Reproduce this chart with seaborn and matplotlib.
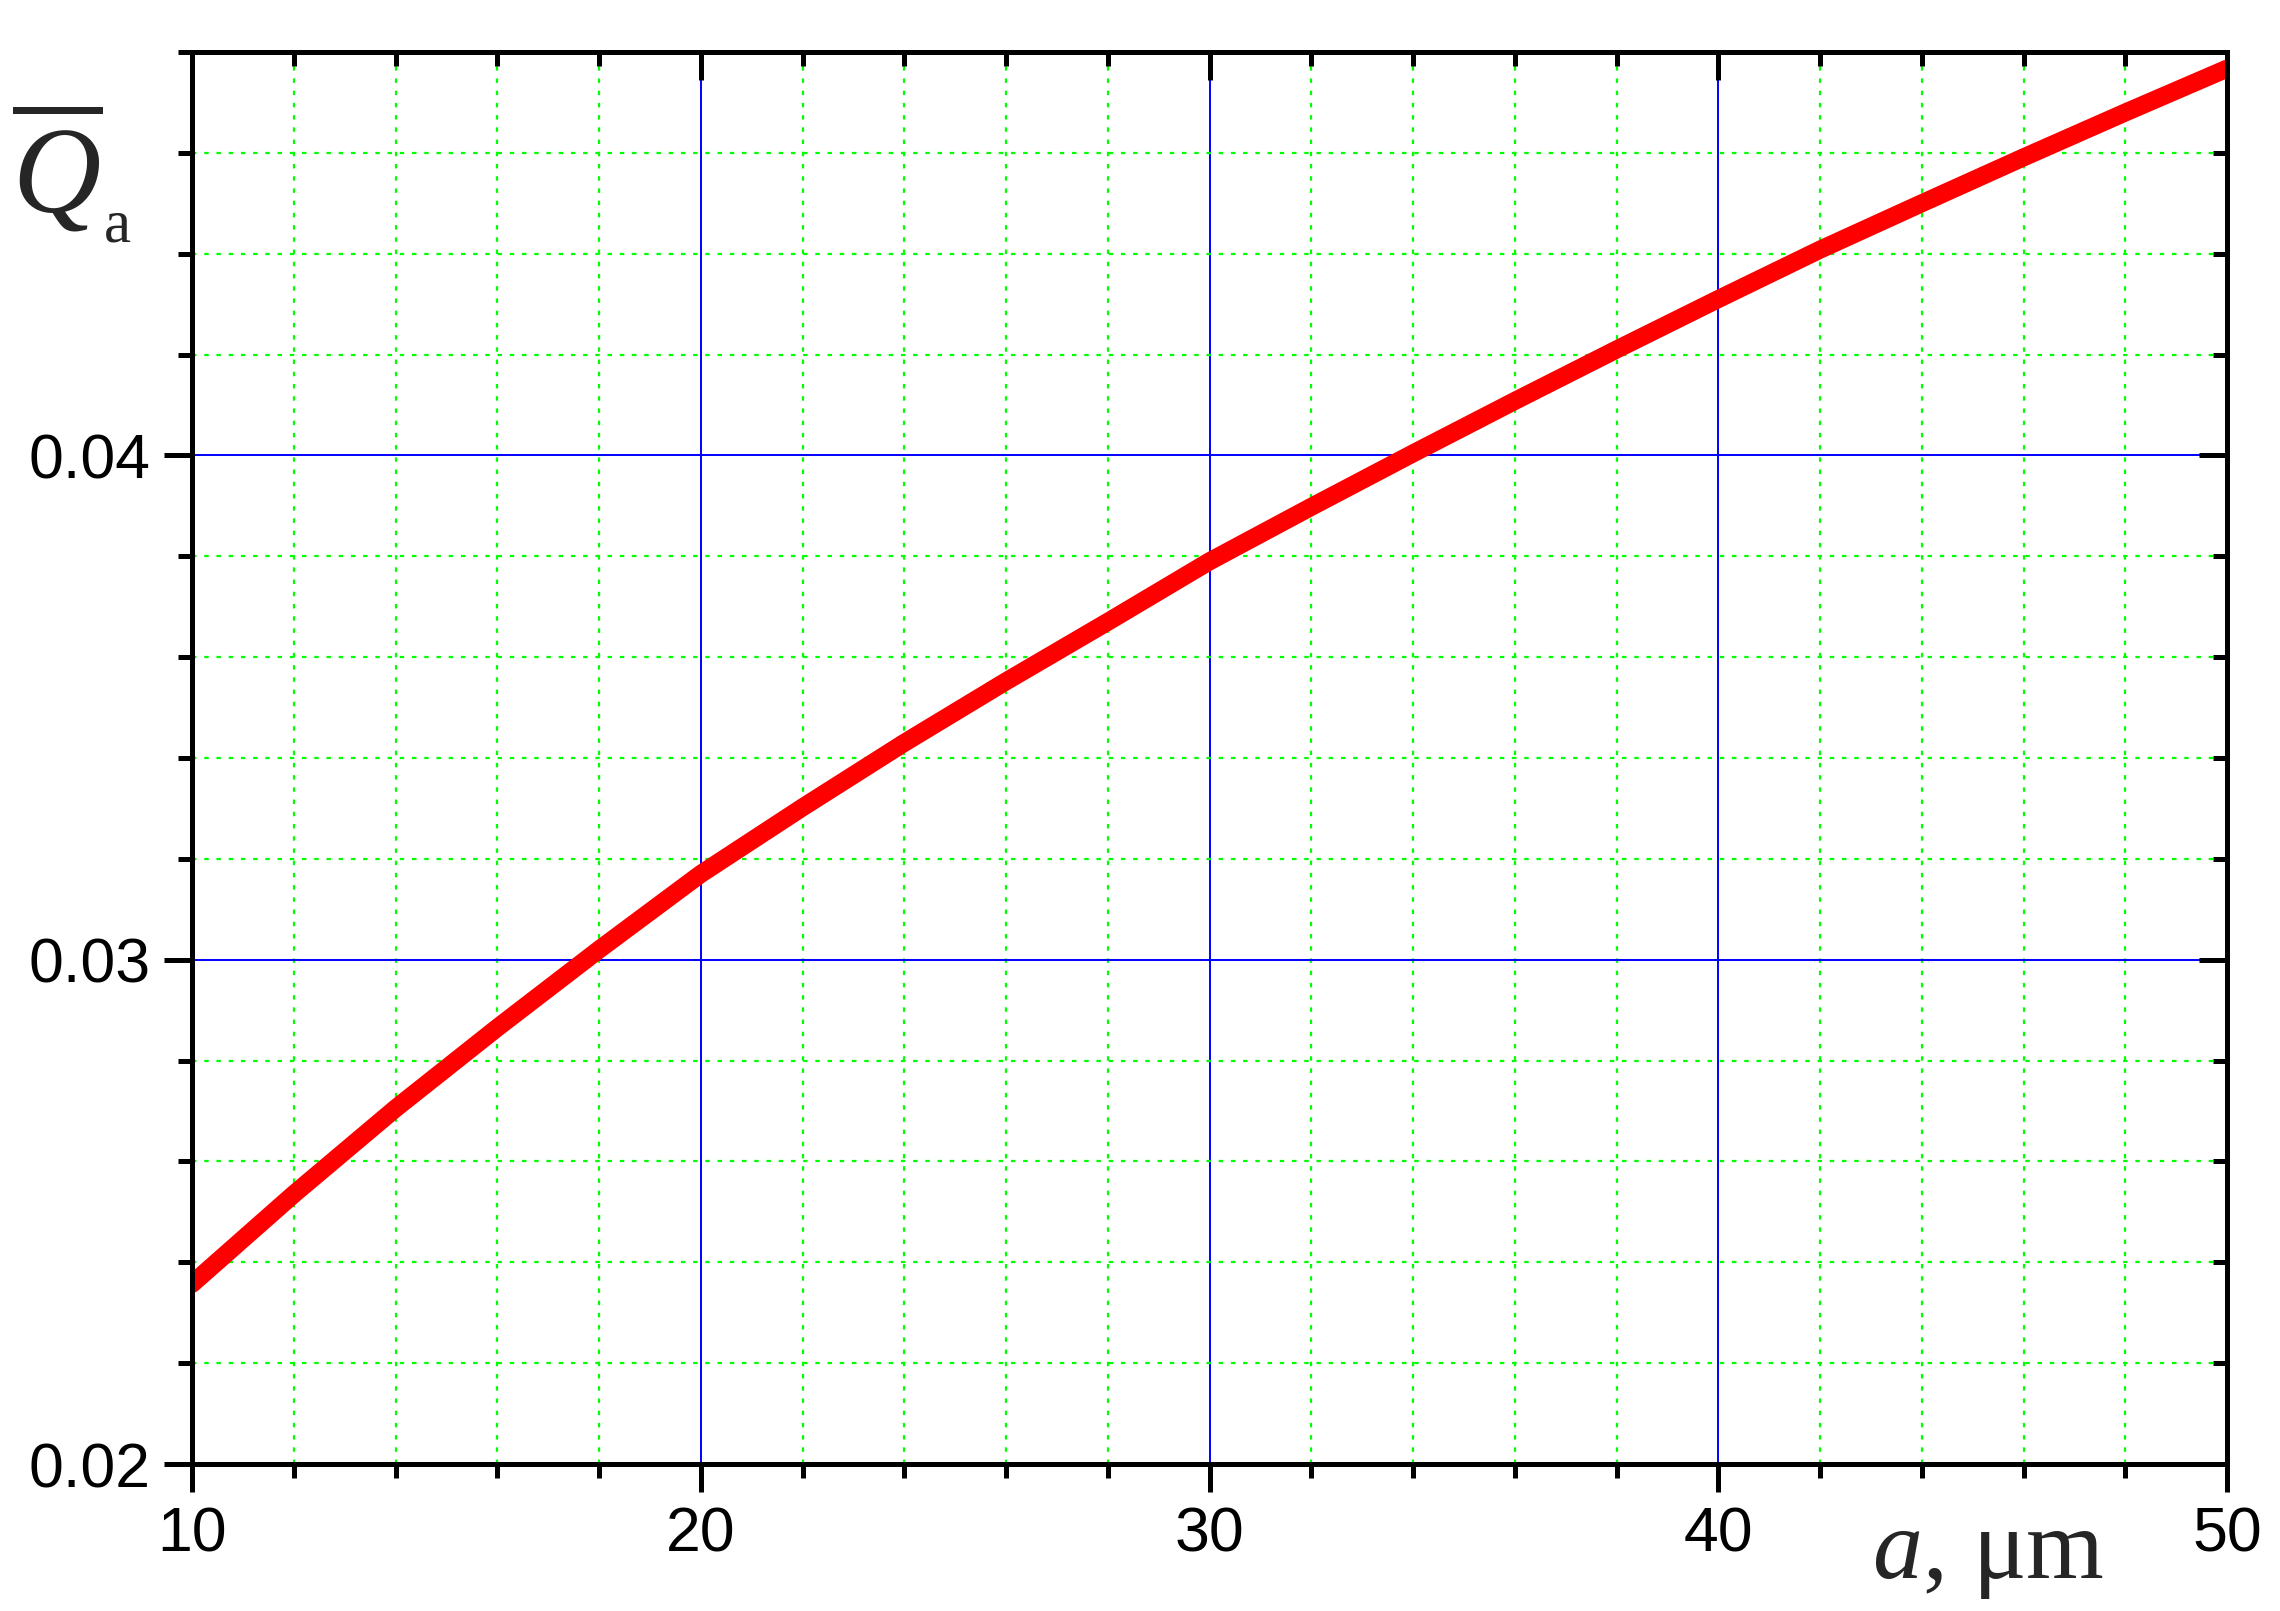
import numpy as np
import pandas as pd
import matplotlib
matplotlib.use('Agg')
import matplotlib.pyplot as plt
import matplotlib.lines as mlines
import seaborn as sns
from matplotlib.ticker import MultipleLocator

# curve values
a_um = [10, 12, 14, 16, 18, 20, 22, 24, 26, 28, 30,
        32, 34, 36, 38, 40, 42, 44, 46, 48, 50]
q_a = [0.02357, 0.02535, 0.02705, 0.02865, 0.03020, 0.03170, 0.03302,
       0.03430, 0.03552, 0.03670, 0.03790, 0.03898, 0.04004, 0.04108,
       0.04210, 0.04310, 0.04408, 0.04500, 0.04591, 0.04680, 0.04767]

x_ticks = [10, 20, 30, 40, 50]
x_labels = ['10', '20', '30', '40', '50']
y_ticks = [0.02, 0.03, 0.04]
y_labels = ['0.02', '0.03', '0.04']

df = pd.DataFrame({'a': a_um, 'q': q_a})

sns.set_style('white')
plt.rcParams['font.family'] = ['Liberation Sans', 'DejaVu Sans']
plt.rcParams['mathtext.fontset'] = 'custom'
plt.rcParams['mathtext.it'] = 'Liberation Serif:italic'
plt.rcParams['mathtext.rm'] = 'Liberation Serif'

fig = plt.figure(figsize=(22.8, 16.11), dpi=100)
ax = fig.add_axes([192 / 2280, 147 / 1611, (2227 - 192) / 2280, (1464 - 52) / 1611])

sns.lineplot(data=df, x='a', y='q', color='#FF0000', lw=13, ax=ax, zorder=2)

ax.set_xlim(10, 50)
ax.set_ylim(0.02, 0.048)
ax.set_xticks(x_ticks)
ax.set_xticklabels(x_labels)
ax.set_yticks(y_ticks)
ax.set_yticklabels(y_labels)
ax.xaxis.set_minor_locator(MultipleLocator(2))
ax.yaxis.set_minor_locator(MultipleLocator(0.002))
ax.set_xlabel('')
ax.set_ylabel('')

# grid: blue solid major, green dotted minor
ax.grid(which='major', color='#0000FF', lw=1.4, ls='-')
ax.grid(which='minor', color='#00FF00', lw=1.6, ls=(0, (2, 3.5)))
ax.set_axisbelow(True)

for s in ax.spines.values():
    s.set_linewidth(3.6)
    s.set_color('black')
    s.set_zorder(6)

ax.tick_params(which='major', direction='out', length=20, width=3.6,
               labelsize=45, colors='black', pad=10,
               bottom=True, left=True, top=True, right=True)
ax.tick_params(which='minor', direction='out', length=10, width=3.6,
               colors='black', bottom=True, left=True, top=True, right=True)

# top and right ticks point inward, bottom and left point outward
n_xmin = len(ax.xaxis.get_minorticklocs())
n_ymin = len(ax.yaxis.get_minorticklocs())
for t in ax.xaxis.get_major_ticks() + ax.xaxis.get_minor_ticks(n_xmin):
    t.tick2line.set_marker(mlines.TICKDOWN)
for t in ax.yaxis.get_major_ticks() + ax.yaxis.get_minor_ticks(n_ymin):
    t.tick2line.set_marker(mlines.TICKLEFT)

# axis labels
fig.text(1872 / 2280, 33 / 1611, r'$a$, μm', family='Liberation Serif',
         fontsize=72, ha='left', va='baseline')
fig.text(12 / 2280, 1 - 213 / 1611, r'$\overline{Q}$', fontsize=88,
         ha='left', va='baseline')
fig.text(104 / 2280, 1 - 242 / 1611, 'a', family='Liberation Serif',
         fontsize=44, ha='left', va='baseline')

fig.savefig('out.png', dpi=100)
